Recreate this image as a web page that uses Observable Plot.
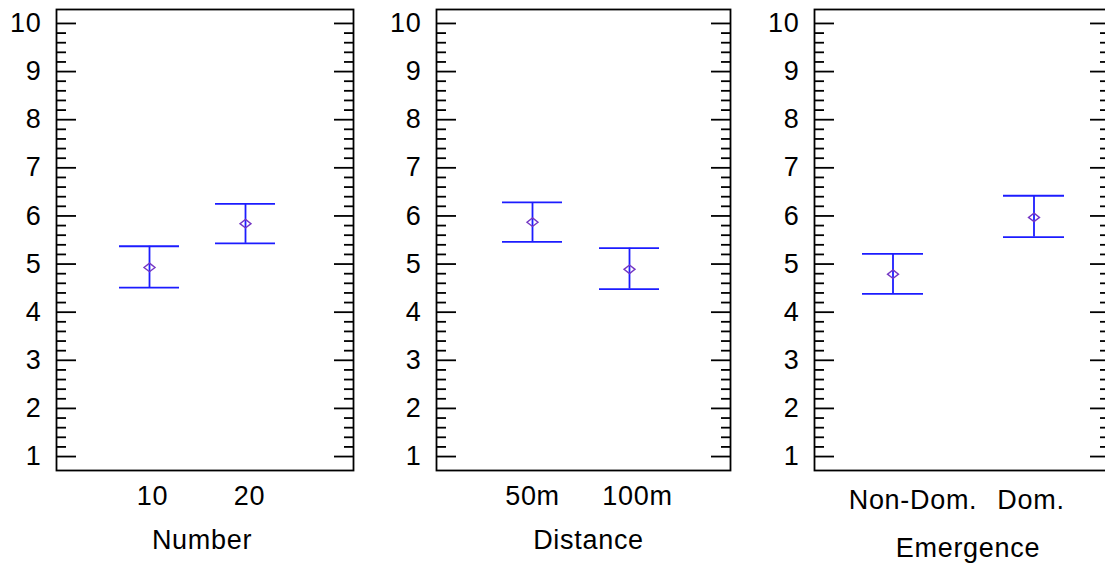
<!DOCTYPE html>
<html>
<head>
<meta charset="utf-8">
<script src="https://cdn.jsdelivr.net/npm/d3@7"></script>
<script src="https://cdn.jsdelivr.net/npm/@observablehq/plot@0.6"></script>
<style>
  html, body { margin: 0; padding: 0; background: #fff; }
  body { width: 1105px; height: 565px; overflow: hidden; position: relative;
         font-family: "Liberation Sans", Arial, sans-serif; }
  .panel { position: absolute; top: 0; }
  .panel svg { max-width: none !important; display: block; }
  .panel svg text { letter-spacing: 0.7px; }
</style>
</head>
<body>
<div id="p1" class="panel"></div>
<div id="p2" class="panel"></div>
<div id="p3" class="panel"></div>
<script>
// ---- data ----
const numberCats = ["10", "20"];
const numberMean = [4.93, 5.84];
const numberLow  = [4.51, 5.43];
const numberHigh = [5.37, 6.25];

const distanceCats = ["50m", "100m"];
const distanceMean = [5.87, 4.89];
const distanceLow  = [5.46, 4.48];
const distanceHigh = [6.28, 5.33];

const emergenceCats = ["Non-Dom.", "Dom."];
const emergenceMean = [4.79, 5.97];
const emergenceLow  = [4.38, 5.56];
const emergenceHigh = [5.21, 6.42];

const yTickLabels = [1, 2, 3, 4, 5, 6, 7, 8, 9, 10];
const yMinor = d3.range(1, 10.001, 0.2).map(v => Math.round(v * 10) / 10).filter(v => !Number.isInteger(v));

const FONT = "'Liberation Sans', Arial, sans-serif";
const FS = 27;
const BLUE = "#1c1cff";
const PURPLE = "#7436c4";
const INK = "#000";

// squashed diamond symbol (wider than tall)
const diamond = {
  draw(ctx, size) {
    const r = Math.sqrt(size / Math.PI);
    ctx.moveTo(0, -r * 0.78);
    ctx.lineTo(r, 0);
    ctx.lineTo(0, r * 0.78);
    ctx.lineTo(-r, 0);
    ctx.closePath();
  }
};

function panel(id, cfg) {
  const rows = cfg.cats.map((c, i) => ({cat: c, mean: cfg.mean[i], low: cfg.low[i], high: cfg.high[i]}));
  const mL = 56, mR = 20;
  const width = mL + cfg.plotW + mR;
  const noText = () => "";
  const tk = {tickFormat: noText, strokeWidth: 1.8, stroke: INK, label: null};
  const chart = Plot.plot({
    width, height: 565,
    marginLeft: mL, marginRight: mR, marginTop: 9, marginBottom: 95,
    style: {fontFamily: FONT, fontSize: FS + "px", color: "#000", background: "transparent", overflow: "visible"},
    x: {type: "band", domain: cfg.cats, paddingInner: cfg.pi, paddingOuter: cfg.po, align: cfg.align, label: null},
    y: {domain: [0.71, 10.29], label: null},
    marks: [
      Plot.axisY(yTickLabels, {anchor: "left", tickSize: 0, tickPadding: 15, fontSize: FS, label: null}),
      Plot.axisY(yTickLabels, {anchor: "left", tickSize: 20, dx: 20, ...tk}),
      Plot.axisY(yMinor, {anchor: "left", tickSize: 10, dx: 10, ...tk}),
      Plot.axisY(yTickLabels, {anchor: "right", tickSize: 20, dx: -20, ...tk}),
      Plot.axisY(yMinor, {anchor: "right", tickSize: 10, dx: -10, ...tk}),
      ...cfg.cats.map((c, i) => Plot.axisX([c], {anchor: "bottom", tickSize: 0, tickPadding: cfg.tickPad, dx: cfg.labelDx[i], fontSize: FS, label: null})),
      Plot.text([cfg.title], {frameAnchor: "bottom", text: d => d, dy: cfg.titleDy, dx: cfg.titleDx, lineAnchor: "top", fontSize: FS, fill: "#000"}),
      Plot.frame({stroke: INK, strokeWidth: 1.8}),
      Plot.ruleX(rows, {x: "cat", y1: "low", y2: "high", stroke: BLUE, strokeWidth: 1.8}),
      Plot.tickY(rows, {x: "cat", y: "low", stroke: BLUE, strokeWidth: 1.8}),
      Plot.tickY(rows, {x: "cat", y: "high", stroke: BLUE, strokeWidth: 1.8}),
      Plot.dot(rows, {x: "cat", y: "mean", symbol: diamond, r: 5.5, stroke: PURPLE, fill: "none", strokeWidth: 1.4})
    ]
  });
  const el = document.getElementById(id);
  el.style.left = cfg.left + "px";
  el.style.width = width + "px";
  chart.style.maxWidth = "none";
  el.appendChild(chart);
}

panel("p1", {cats: numberCats, mean: numberMean, low: numberLow, high: numberHigh,
  title: "Number", left: 0, plotW: 297, pi: 0.373, po: 0.722, align: 0.444,
  tickPad: 15, labelDx: [3, 4], titleDy: 59, titleDx: -3});
panel("p2", {cats: distanceCats, mean: distanceMean, low: distanceLow, high: distanceHigh,
  title: "Distance", left: 380, plotW: 294, pi: 0.377, po: 0.698, align: 0.485,
  tickPad: 15, labelDx: [0, 8], titleDy: 59, titleDx: 5});
panel("p3", {cats: emergenceCats, mean: emergenceMean, low: emergenceLow, high: emergenceHigh,
  title: "Emergence", left: 758, plotW: 295, pi: 0.570, po: 0.324, align: 0.513,
  tickPad: 19, labelDx: [20, -3], titleDy: 67, titleDx: 6});
</script>
</body>
</html>
